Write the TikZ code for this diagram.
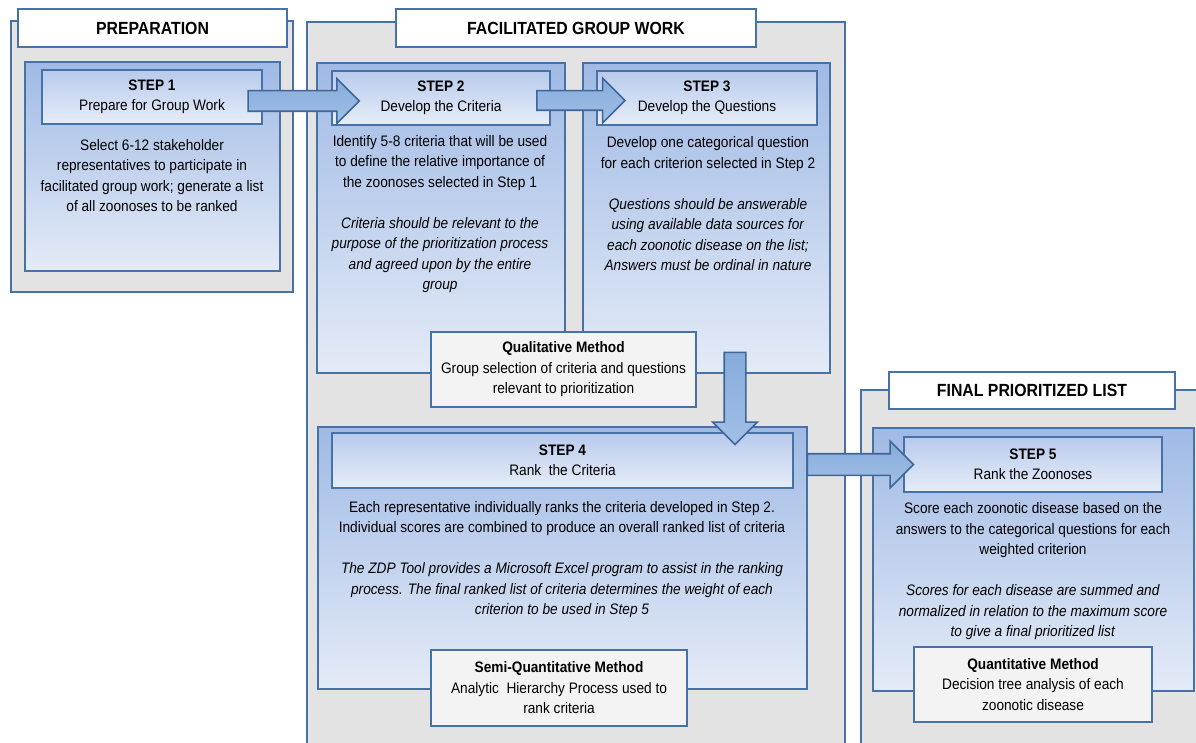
\documentclass[tikz,border=0pt]{standalone}
\usepackage{fontspec}
\setmainfont{Liberation Sans}[FakeStretch=0.9]
\usetikzlibrary{shapes.arrows}

\definecolor{edgeblue}{HTML}{4672A8}
\definecolor{arrowedge}{HTML}{3E6699}
\definecolor{panelgray}{HTML}{E3E3E3}
\definecolor{boxtop}{HTML}{A0BAE5}
\definecolor{boxbottom}{HTML}{E4EBF7}
\definecolor{titletop}{HTML}{B8CAEC}
\definecolor{titlebottom}{HTML}{E6EDF8}
\definecolor{methodgray}{HTML}{F3F3F3}
\definecolor{arrowtop}{HTML}{86ABDB}
\definecolor{arrowbottom}{HTML}{A2C0E6}

\tikzset{
  panel/.style={draw=edgeblue, line width=1.8pt, fill=panelgray, inner sep=0pt},
  heading/.style={draw=edgeblue, line width=1.8pt, fill=white, inner sep=0pt,
    font=\bfseries\fontsize{17.6}{20}\selectfont},
  stepbox/.style={draw=edgeblue, line width=1.8pt, top color=boxtop, bottom color=boxbottom, inner sep=0pt},
  steptitle/.style={draw=edgeblue, line width=1.8pt, top color=titletop, bottom color=titlebottom,
    align=center, inner sep=0pt},
  method/.style={draw=edgeblue, line width=1.8pt, fill=methodgray, align=center, inner sep=0pt},
  bodytext/.style={align=center, inner sep=0pt},
  blockarrow/.style={single arrow, draw=arrowedge, line width=1.6pt, top color=arrowtop,
    bottom color=arrowbottom, inner xsep=0pt, inner ysep=9.5pt, single arrow head extend=12pt}
}

\begin{document}
\begin{tikzpicture}[x=1pt, y=-1pt, font=\fontsize{15.2}{20.5}\selectfont]
\useasboundingbox (0,0) rectangle (1196,743);
\clip (0,0) rectangle (1196,743);

% panels
\node[panel, minimum width=282pt, minimum height=271pt] (prep) at (152,156.5) {};
\node[panel, minimum width=538pt, minimum height=738pt] (fac) at (576,391) {};
\node[panel, minimum width=349pt, minimum height=370pt] (final) at (1035.5,575) {};

\node[heading, minimum width=269pt, minimum height=38pt] (preptitle) at (152.5,28) {PREPARATION};
\node[heading, minimum width=360pt, minimum height=38pt] (factitle) at (576,28) {FACILITATED GROUP WORK};
\node[heading, minimum width=286pt, minimum height=37pt] (finaltitle) at (1032,390.5) {FINAL PRIORITIZED LIST};

% step 1
\node[stepbox, minimum width=255pt, minimum height=209pt] (s1) at (152.5,166.5) {};
\node[steptitle, minimum width=220pt, minimum height=54pt] (s1title) at (152,97)
  {\textbf{STEP 1}\\Prepare for Group Work};
\node[bodytext] (s1text) at (152,175.5)
  {Select 6-12 stakeholder\\representatives to participate in\\facilitated group work; generate a list\\of all zoonoses to be ranked};

% step 2
\node[stepbox, minimum width=248pt, minimum height=310pt] (s2) at (441,218) {};
\node[steptitle, minimum width=218pt, minimum height=54pt] (s2title) at (441,98)
  {\textbf{STEP 2}\\Develop the Criteria};
\node[bodytext] (s2text) at (440,214)
  {Identify 5-8 criteria that will be used\\to define the relative importance of\\the zoonoses selected in Step 1\\[20.5pt]
   \textit{Criteria should be relevant to the}\\\textit{purpose of the prioritization process}\\\textit{and agreed upon by the entire}\\\textit{group}};

% step 3
\node[stepbox, minimum width=247pt, minimum height=310pt] (s3) at (706.5,218) {};
\node[steptitle, minimum width=220pt, minimum height=54pt] (s3title) at (707,98)
  {\textbf{STEP 3}\\Develop the Questions};
\node[bodytext] (s3text) at (708,204)
  {Develop one categorical question\\for each criterion selected in Step 2\\[20.5pt]
   \textit{Questions should be answerable}\\\textit{using available data sources for}\\\textit{each zoonotic disease on the list;}\\\textit{Answers must be ordinal in nature}};

\node[method, minimum width=265pt, minimum height=75pt] (qual) at (563.5,369.5)
  {\textbf{Qualitative Method}\\Group selection of criteria and questions\\relevant to prioritization};

% step 4
\node[stepbox, minimum width=489pt, minimum height=262pt] (s4) at (562.5,558) {};
\node[steptitle, minimum width=461pt, minimum height=55pt] (s4title) at (562.5,460.5)
  {\textbf{STEP 4}\\Rank\ \ the Criteria};
\node[bodytext] (s4text) at (562,559.5)
  {Each representative individually ranks the criteria developed in Step 2.\\Individual scores are combined to produce an overall ranked list of criteria\\[20.5pt]
   \textit{The ZDP Tool provides a Microsoft Excel program to assist in the ranking}\\\textit{process. The final ranked list of criteria determines the weight of each}\\\textit{criterion to be used in Step 5}};
\node[method, minimum width=256pt, minimum height=76pt] (semi) at (559,688)
  {\textbf{Semi-Quantitative Method}\\Analytic\ \ Hierarchy Process used to\\rank criteria};

% step 5
\node[stepbox, minimum width=321pt, minimum height=263pt] (s5) at (1033.5,559.5) {};
\node[steptitle, minimum width=258pt, minimum height=55pt] (s5title) at (1033,464.5)
  {\textbf{STEP 5}\\Rank the Zoonoses};
\node[bodytext] (s5text) at (1033,571.5)
  {Score each zoonotic disease based on the\\answers to the categorical questions for each\\weighted criterion\\[20.5pt]
   \textit{Scores for each disease are summed and}\\\textit{normalized in relation to the maximum score}\\\textit{to give a final prioritized list}};
\node[method, minimum width=238pt, minimum height=75pt] (quant) at (1033,684.5)
  {\textbf{Quantitative Method}\\Decision tree analysis of each\\zoonotic disease};

% block arrows between steps
\node[blockarrow, minimum height=111pt] (a12) at (298.5,101) {};
\node[blockarrow, minimum height=88pt, inner ysep=9pt, single arrow head extend=12.5pt] (a23) at (576,100.5) {};
\node[blockarrow, minimum height=92pt, inner ysep=10pt, rotate=-90, single arrow head extend=11.5pt] (a34) at (735,393) {};
\node[blockarrow, minimum height=106pt, inner ysep=10pt, single arrow head extend=12.5pt] (a45) at (855,464.5) {};
\end{tikzpicture}
\end{document}
